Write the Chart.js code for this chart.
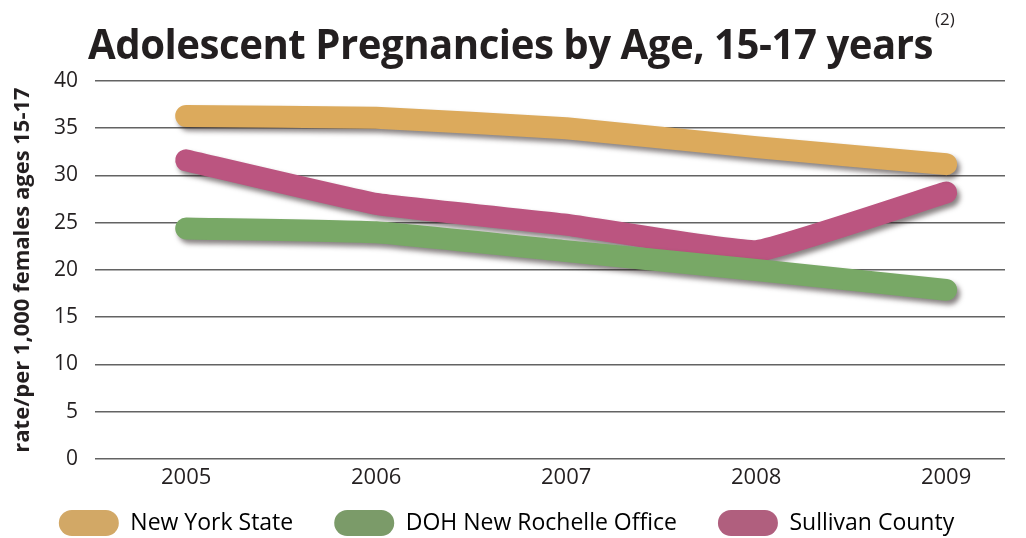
<!DOCTYPE html>
<html>
<head>
<meta charset="utf-8">
<script src="https://cdn.jsdelivr.net/npm/chart.js@4/dist/chart.umd.min.js"></script>
<style>
  html, body { margin: 0; padding: 0; background: #fff; }
  #wrap { position: relative; width: 1026px; height: 538px; }
  #title {
    position: absolute; left: 88px; top: 14px; white-space: nowrap;
    font-family: "Open Sans", sans-serif; font-weight: 700; font-size: 42px;
    color: #231f20; transform-origin: left top; letter-spacing: -0.5px;
  }
  #sup {
    position: absolute; left: 935px; top: 7px; white-space: nowrap;
    font-family: "Open Sans", sans-serif; font-size: 17px; color: #231f20;
  }
</style>
</head>
<body>
<div id="wrap">
  <canvas id="chart" width="1026" height="538"></canvas>
  <div id="title">Adolescent Pregnancies by Age, 15-17 years</div>
  <div id="sup">(2)</div>
</div>
<script>
const years = [2005, 2006, 2007, 2008, 2009];
const newYorkState = [36.3, 36.1, 35.0, 33.0, 31.2];
const dohNewRochelle = [24.4, 24.0, 22.0, 20.0, 17.9];
const sullivanCounty = [31.6, 27.0, 24.8, 22.0, 28.2];
const yTicks = [0, 5, 10, 15, 20, 25, 30, 35, 40];

// squeeze title to the reference width
const t = document.getElementById("title");
t.style.transform = "scaleX(" + (845 / t.getBoundingClientRect().width) + ")";

const toPoints = (vals) => vals.map((v, i) => ({ x: years[i], y: v }));

const lineShadow = {
    id: "lineShadow",
    beforeDatasetDraw(chart) {
        const c = chart.ctx;
        c.save();
        c.shadowColor = "rgba(40,30,30,0.55)";
        c.shadowOffsetX = 3;
        c.shadowOffsetY = 4;
        c.shadowBlur = 5;
    },
    afterDatasetDraw(chart) {
        chart.ctx.restore();
    },
};

// legend keeps wide horizontal gaps but sits in a short strip
const legendFit = {
    id: "legendFit",
    beforeLayout(chart) {
        const lg = chart.legend;
        if (lg && !lg._patched) {
            const fit = lg.fit.bind(lg);
            lg.fit = function () { fit(); this.height = 44; };
            lg._patched = true;
        }
    },
    afterLayout(chart) {
        chart.legend.top -= 25;
        chart.legend.height += 25;
    },
};

const ds = (label, data, color, legendColor) => ({
    label: label,
    data: toPoints(data),
    borderColor: color,
    backgroundColor: legendColor,
    borderWidth: 22,
    borderCapStyle: "round",
    borderJoinStyle: "round",
    pointRadius: 0,
    tension: 0.1,
});

const ctx = document.getElementById("chart").getContext("2d");
const chart = new Chart(ctx, {
    type: "line",
    data: {
        datasets: [
            ds("New York State", newYorkState, "#dcaa5c", "#d2a866"),
            ds("DOH New Rochelle Office", dohNewRochelle, "#78a866", "#7b9b69"),
            ds("Sullivan County", sullivanCounty, "#bb5580", "#b05f7e"),
        ],
    },
    options: {
        responsive: false,
        animation: false,
        layout: { padding: { top: 81, right: 21, left: 8, bottom: 0 } },
        scales: {
            x: {
                type: "linear",
                min: 2004.52,
                max: 2009.31,
                afterBuildTicks: (s) => { s.ticks = years.map((y) => ({ value: y })); },
                afterFit: (s) => { s.height = 35; },
                grid: { display: false, drawTicks: false },
                border: { display: false },
                ticks: {
                    color: "#231f20",
                    font: { family: "Open Sans", size: 22 },
                    callback: (v) => String(v),
                    maxRotation: 0,
                    padding: 6,
                },
            },
            y: {
                min: 0,
                max: 40,
                afterBuildTicks: (s) => { s.ticks = yTicks.map((v) => ({ value: v })); },
                afterFit: (s) => { s.width = 87; },
                grid: { color: "#636363", lineWidth: 1.6, drawTicks: false },
                border: { display: false },
                ticks: {
                    color: "#231f20",
                    font: { family: "Open Sans", size: 21 },
                    padding: 17,
                },
                title: {
                    display: true,
                    text: "rate/per 1,000 females ages 15-17",
                    color: "#231f20",
                    font: { family: "Open Sans", size: 22, weight: "bold" },
                    padding: { top: 2, bottom: 4 },
                },
            },
        },
        plugins: {
            legend: {
                position: "bottom",
                labels: {
                    color: "#231f20",
                    font: { family: "Open Sans", size: 23 },
                    boxWidth: 60,
                    boxHeight: 26,
                    useBorderRadius: true,
                    borderRadius: 13,
                    padding: 41,
                    generateLabels: (chart) => chart.data.datasets.map((d, i) => ({
                        text: d.label,
                        fillStyle: d.backgroundColor,
                        strokeStyle: d.backgroundColor,
                        lineWidth: 0,
                        borderRadius: 13,
                        datasetIndex: i,
                    })),
                },
            },
            tooltip: { enabled: false },
        },
    },
    plugins: [lineShadow, legendFit],
});
</script>
</body>
</html>
